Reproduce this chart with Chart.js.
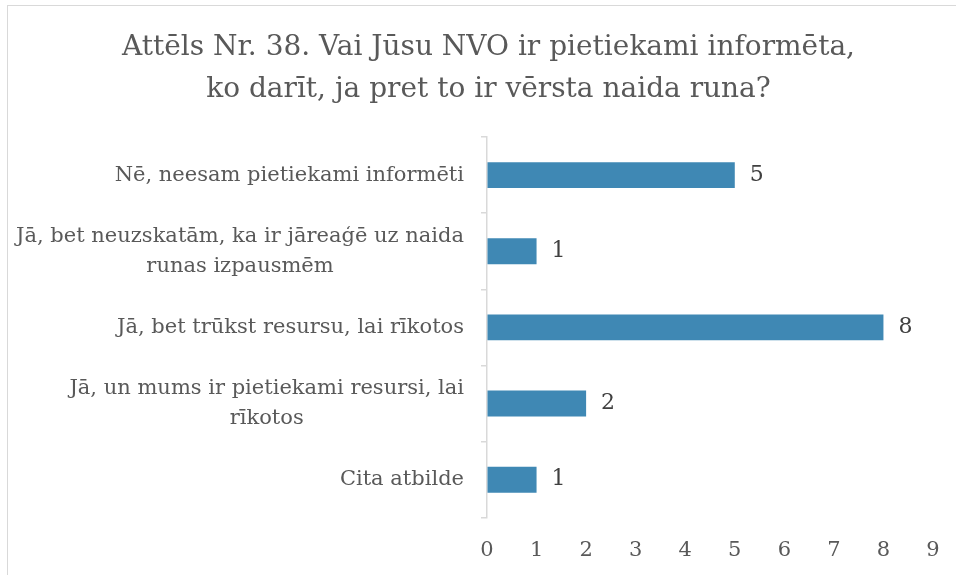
<!DOCTYPE html>
<html>
<head>
<meta charset="utf-8">
<script src="https://cdn.jsdelivr.net/npm/chart.js@4.4.1/dist/chart.umd.min.js"></script>
<style>
  html, body { margin: 0; padding: 0; background: #fff; overflow: hidden; }
  .frame { position: absolute; left: 7px; top: 5px; width: 1000px; height: 1000px; border: 1px solid #d9d9d9; }
  .wrap { position: absolute; left: 0; top: 0; width: 956px; height: 575px; }
</style>
</head>
<body>
<div class="frame"></div>
<div class="wrap"><canvas id="chart"></canvas></div>
<script>
const titleLines = [
  'Attēls Nr. 38. Vai Jūsu NVO ir pietiekami informēta,',
  'ko darīt, ja pret to ir vērsta naida runa?'
];
const categories = [
  ['Nē, neesam pietiekami informēti'],
  ['Jā, bet neuzskatām, ka ir jāreaģē uz naida', 'runas izpausmēm'],
  ['Jā, bet trūkst resursu, lai rīkotos'],
  ['Jā, un mums ir pietiekami resursi, lai', 'rīkotos'],
  ['Cita atbilde']
];
const counts = [5, 1, 8, 2, 1];
const xTicks = [0, 1, 2, 3, 4, 5, 6, 7, 8, 9];

const serif = "'DejaVu Serif', serif";
const labelFont = '21px ' + serif;
const textGrey = '#595959';

// category names: right aligned as a block, wrapped lines centred inside it
const categoryLabels = {
  id: 'categoryLabels',
  afterDraw(chart) {
    const ctx = chart.ctx;
    const yScale = chart.scales.y;
    const right = chart.chartArea.left - 23;
    ctx.save();
    ctx.font = labelFont;
    ctx.fillStyle = textGrey;
    ctx.textAlign = 'center';
    ctx.textBaseline = 'middle';
    categories.forEach((lines, i) => {
      const cy = yScale.getPixelForValue(i);
      const widest = Math.max(...lines.map(l => ctx.measureText(l).width));
      const cx = right - widest / 2;
      lines.forEach((line, j) => {
        ctx.fillText(line, cx, cy + (j - (lines.length - 1) / 2) * 30);
      });
    });
    ctx.restore();
  }
};

// numbers printed just past the end of each bar
const valueLabels = {
  id: 'valueLabels',
  afterDatasetsDraw(chart) {
    const ctx = chart.ctx;
    ctx.save();
    ctx.font = '22px ' + serif;
    ctx.fillStyle = '#404040';
    ctx.textAlign = 'left';
    ctx.textBaseline = 'middle';
    chart.getDatasetMeta(0).data.forEach((bar, i) => {
      ctx.fillText(String(counts[i]), bar.x + 15, bar.y);
    });
    ctx.restore();
  }
};

new Chart(document.getElementById('chart'), {
  type: 'bar',
  data: {
    labels: categories,
    datasets: [{
      data: counts,
      backgroundColor: '#3f88b4',
      borderWidth: 0,
      barPercentage: 0.34,
      categoryPercentage: 1
    }]
  },
  options: {
    indexAxis: 'y',
    responsive: true,
    maintainAspectRatio: false,
    animation: false,
    layout: { padding: { left: 44, right: 23, top: 0, bottom: 8 } },
    plugins: {
      legend: { display: false },
      tooltip: { enabled: false },
      title: {
        display: true,
        text: titleLines,
        color: textGrey,
        font: { family: serif, size: 28, weight: 'normal', lineHeight: 42 / 28 },
        padding: { top: 27, bottom: 26 }
      }
    },
    scales: {
      x: {
        min: 0,
        max: xTicks[xTicks.length - 1],
        afterBuildTicks(scale) {
          scale.ticks = xTicks.map(v => ({ value: v }));
        },
        // invisible tick marks: they only push the labels down
        grid: {
          drawOnChartArea: false,
          drawTicks: true,
          tickLength: 16,
          color: 'rgba(0,0,0,0)'
        },
        border: { display: false },
        ticks: {
          padding: 4,
          color: textGrey,
          font: { family: serif, size: 21 }
        }
      },
      y: {
        grid: {
          drawOnChartArea: false,
          tickLength: 6,
          color: '#d9d9d9',
          lineWidth: 1.5
        },
        border: { display: true, color: '#d9d9d9', width: 1.5 },
        ticks: { display: false },
        afterFit(scale) {
          scale.width = 487 - 44;
        }
      }
    }
  },
  plugins: [categoryLabels, valueLabels]
});
</script>
</body>
</html>
